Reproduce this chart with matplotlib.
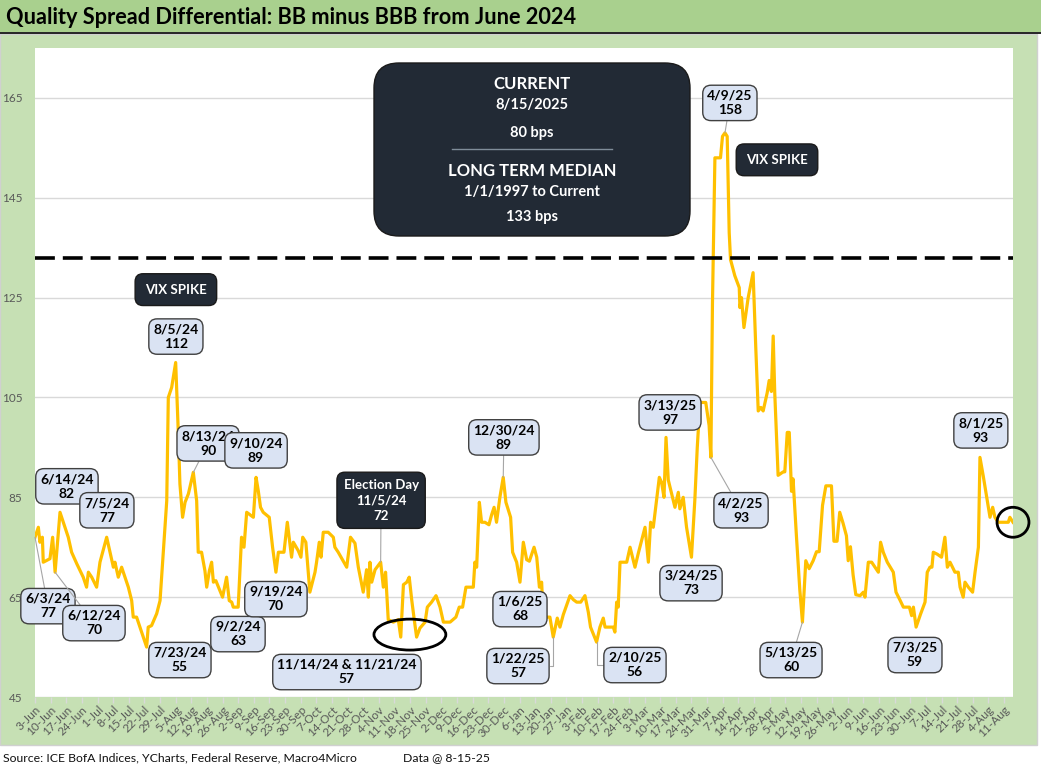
import matplotlib
matplotlib.use('Agg')
import matplotlib.pyplot as plt
import matplotlib.dates as mdates
from matplotlib.patches import Ellipse, FancyBboxPatch, Rectangle
from matplotlib.lines import Line2D
import pandas as pd

plt.rcParams['font.family'] = ['Lato', 'DejaVu Sans']

''' Quality spread differential: BB minus BBB (bps) '''

start = pd.Timestamp('2024-06-03')

obs_day = [
    0, 1.5, 2.2, 3.3, 3.7, 6.7, 7.9, 9, 11.2, 14.9, 16.4, 18.7, 21.6, 23.1, 23.9, 25.4, 27.6, 29.1,
    32.1, 35.1, 35.8, 37.3, 38.8, 41.8, 43.3, 44, 45.5, 50, 50.7, 52.2, 54.5, 56, 57.5, 59, 59.7,
    61.2, 63, 64.2, 64.9, 66.1, 67.2, 68.7, 70.9, 72.4, 73.1, 74.6, 76.1, 76.9, 78.1, 79.1, 79.9,
    81, 82.8, 84, 85.8, 87, 88.1, 88.8, 91, 92.5, 93.6, 94.8, 97.8, 99, 100, 101, 102.2, 104.9,
    106.4, 107.9, 109, 111.5, 113, 114.9, 115.7, 117.9, 119.1, 119.9, 121.3, 123.1, 125.4, 126.1,
    127.3, 128.1, 129.1, 131.3, 133.6, 134.3, 135.8, 139.6, 141.3, 143.3, 144.8, 147, 148.5, 149.3,
    150, 150.8, 152.3, 154.8, 156, 157, 158.2, 160.5, 162.7, 163.8, 165, 166.5, 167.6, 168.7, 169.7,
    170.9, 172.4, 174.7, 175.7, 177.6, 179.6, 181.4, 182.9, 185.9, 188.5, 190, 191.5, 193, 196.3,
    197, 197.8, 199, 200, 201.5, 203.3, 204.5, 205.6, 206.7, 208.2, 209.7, 210.9, 213, 213.9, 215.7,
    217.2, 218.7, 220.2, 221.4, 223.5, 224.7, 225.9, 226.9, 227.6, 229.1, 230.6, 232.1, 233.9, 235.1,
    236.6, 239.6, 241.1, 242.6, 244.4, 246.3, 247.8, 248.8, 251.5, 253, 254.5, 255.3, 257.8, 259,
    259.7, 260.5, 261.2, 262, 265, 266.5, 268.7, 270.2, 273.2, 274.7, 275.7, 276.9, 279.6, 280.6,
    281.7, 282.6, 283.6, 286.6, 288.1, 288.8, 290.3, 291.8, 294, 295.5, 296.6, 297.8, 300.4, 301.9,
    302.7, 303.4, 304.5, 307, 307.9, 309, 310, 310.9, 311.5, 313.4, 315.4, 315.7, 316.4, 317.5,
    319.4, 321.6, 322.8, 323.9, 325.1, 326.1, 327.9, 328.8, 329.8, 330.6, 331.3, 332.8, 335.1, 335.8,
    336.9, 337.8, 338.8, 339.5, 341, 342.5, 343.7, 345.2, 346.7, 348.5, 350, 351.2, 352.7, 354.2,
    356.7, 357.8, 359.2, 360.4, 361.9, 363.4, 364.2, 365.2, 366.4, 367.6, 369.5, 371, 371.7, 373.2,
    374.7, 376.2, 377.7, 378.7, 379.9, 381.7, 384.4, 385.6, 387.4, 388.9, 391.6, 392.6, 393.4, 394.6,
    396.6, 398.6, 399.6, 400.8, 401.7, 402.3, 404.1, 406, 407.5, 408.6, 409.8, 412, 413.5, 414.3,
    415.7, 416.5, 418, 419.9, 421, 422.5, 423.2, 424.7, 426.2, 427.7, 428.9, 429.9, 431.4, 433.7,
    435.9, 436.6, 438,
]

spread_bps = [
    77, 79, 76, 77, 72, 72.7, 77, 70, 82, 77, 74, 71.7, 69, 67, 70, 69, 67, 72,
    77, 71, 72, 69, 71, 67, 64.3, 61, 61, 55, 59, 59.3, 61.7, 64.3, 74.3, 84.3, 105,
    107, 112, 97.7, 87.7, 81, 84, 85.7, 90, 84.3, 74, 74, 70.3, 67, 70.3, 72, 68,
    68.3, 66.3, 65, 69, 64.3, 64, 63, 63, 77, 75, 82, 81, 89, 86.3, 83, 82, 81,
    75, 70, 74, 74, 80, 73, 76, 74.3, 73, 77, 76, 66, 70, 72,
    76, 73, 78, 78, 77, 75, 74, 71, 77, 75.8, 71, 66, 70.5, 65,
    72, 68, 70.5, 72, 67, 70, 60.5, 60, 60.5, 57, 67.5, 68, 69, 64.5, 61,
    57, 58.8, 60, 63, 64, 65.3, 63, 60, 60, 61, 63, 63, 67, 67,
    72, 71, 84, 80, 80, 79.5, 81.5, 83, 80, 85, 89, 84, 81, 74, 72,
    68, 76, 72.5, 72.2, 75, 73, 67, 68, 61, 61, 61, 57, 60.8, 59,
    61.5, 65.3, 64.5, 64, 64, 65.3, 62, 59, 56, 59, 60.8, 59, 59, 59,
    58, 64, 63, 72, 72, 75, 71, 73.8, 79, 72, 80, 79, 89, 88,
    85, 97, 88.5, 83, 86, 82.7, 85, 79, 73, 84.4, 95, 104, 104, 99.4,
    93, 123.7, 153, 153, 157.3, 158, 157.3, 138, 132.6, 129.4, 127, 123, 125, 119,
    125, 130, 115, 102.3, 103, 102.3, 105.9, 108.4, 106.2, 117.3, 105.9, 89.4, 90.1, 90.1,
    98, 98, 86.2, 88.7, 77.3, 66.6, 60, 72.3, 70.7, 72.3, 74.1, 74.1, 83.4, 87.3,
    87.3, 76.2, 76.2, 82, 79.8, 77.3, 72.3, 75.1, 69.4, 65.5, 65.3, 66, 65, 72,
    72, 71, 70, 76, 74, 72, 70, 66, 64.4, 63, 63, 61.3, 63, 59,
    61.6, 64, 70, 71, 71, 74, 73.6, 73, 77, 71, 72, 70, 70, 67,
    65, 68, 67, 66, 70, 75, 93, 89.2, 85.1, 81, 83, 81, 80, 80,
    80, 81, 80,
]

median_bps = 133      # long term median 1/1/1997 to current
current_bps = 80

# callouts: text, point (day, bps), box centre (day, bps), leader style
callouts = [
    ('6/14/24\n82', 11.2, 82, 14.3, 87.2, None),
    ('7/5/24\n77', 32.1, 77, 32.2, 82.4, None),
    ('6/3/24\n77', 0, 77, 5.8, 63.2, 'line'),
    ('6/12/24\n70', 9, 70, 26.4, 59.8, 'line'),
    ('7/23/24\n55', 50, 55, 64.9, 52.4, None),
    ('8/5/24\n112', 63, 112, 63.1, 117.2, None),
    ('8/13/24\n90', 70.9, 90, 77.5, 95.8, 'line'),
    ('9/10/24\n89', 99, 89, 99.0, 94.4, None),
    ('9/2/24\n63', 91, 63, 90.9, 57.6, None),
    ('9/19/24\n70', 107.9, 70, 107.9, 64.6, None),
    ('11/14/24 & 11/21/24\n57', None, None, 139.7, 50.0, None),
    ('12/30/24\n89', 209.7, 89, 210.0, 97.0, 'line'),
    ('1/6/25\n68', 217.2, 68, 217.2, 62.6, None),
    ('1/22/25\n57', 232.1, 57, 216.3, 51.2, 'elbow'),
    ('2/10/25\n56', 251.5, 56, 268.7, 51.4, 'elbow'),
    ('3/13/25\n97', 282.6, 97, 284.4, 102.0, None),
    ('3/24/25\n73', 294, 73, 293.8, 67.8, None),
    ('4/9/25\n158', 309, 158, 311.2, 164.0, 'line'),
    ('4/2/25\n93', 302.7, 93, 316.2, 82.4, 'line'),
    ('5/13/25\n60', 343.7, 60, 338.6, 52.4, 'line'),
    ('7/3/25\n59', 394.6, 59, 394.1, 53.4, None),
    ('8/1/25\n93', 423.2, 93, 423.6, 98.4, None),
]

W, H = 1041, 774


def dn(day):
    return mdates.date2num(start + pd.Timedelta(days=day))


def fx(px):
    return px / W


def fy(py):
    return 1 - py / H


fig = plt.figure(figsize=(W / 100, H / 100), dpi=100)
fig.patch.set_facecolor('white')

# title band and chart frame
fig.add_artist(Rectangle((0, fy(32)), 1, 32 / H, transform=fig.transFigure,
                         fc='#A9D08E', ec='none', zorder=0))
fig.add_artist(Line2D([0, 1], [fy(32.5), fy(32.5)], transform=fig.transFigure, color='black', lw=1.2))
fig.add_artist(Rectangle((0, fy(745)), fx(1037), (745 - 34) / H, transform=fig.transFigure,
                         fc='#C6E0B4', ec='#D0D0D0', lw=1, zorder=0))
fig.text(fx(6), fy(17), 'Quality Spread Differential: BB minus BBB from June 2024',
         fontsize=15.7, fontweight='bold', va='center', ha='left')
fig.text(fx(3), fy(758), 'Source: ICE BofA Indices, YCharts, Federal Reserve, Macro4Micro',
         fontsize=8.8, va='center', ha='left', color='#111111')
fig.text(fx(403), fy(758), 'Data @ 8-15-25', fontsize=8.8, va='center', ha='left', color='#111111')

ax = fig.add_axes([fx(35), fy(697), fx(1013) - fx(35), (697 - 48) / H])
ax.set_facecolor('white')

dates = [start + pd.Timedelta(days=d) for d in obs_day]
ax.plot(dates, spread_bps, color='#FFC000', lw=2.3, solid_joinstyle='round', zorder=3)
ax.axhline(median_bps, color='black', lw=2.6, dashes=(5.5, 2.2), zorder=4)

ax.set_xlim(dn(0), dn(438))
ax.set_ylim(45, 175)
ax.set_yticks(range(45, 166, 20))
ax.grid(axis='y', color='#D9D9D9', lw=1)
ax.set_axisbelow(True)
for s in ax.spines.values():
    s.set_visible(False)

ax.xaxis.set_major_locator(mdates.WeekdayLocator(byweekday=mdates.MO))
ax.xaxis.set_major_formatter(plt.FuncFormatter(
    lambda v, pos: f"{mdates.num2date(v).day}-{mdates.num2date(v):%b}"))
ax.tick_params(axis='x', colors='#D9D9D9', length=4, width=1, labelcolor='#595959',
               labelsize=8.5, pad=1)
ax.tick_params(axis='y', length=0, labelcolor='#595959', labelsize=8.5, pad=9)
for lab in ax.get_xticklabels():
    lab.set_rotation(45)
    lab.set_ha('right')
    lab.set_va('top')
    lab.set_rotation_mode('anchor')

blue_box = dict(boxstyle='round,pad=0.32,rounding_size=0.6', fc='#DAE3F3', ec='#404040', lw=1)
for text, pd_, pv, bd, bv, style in callouts:
    if style is None:
        ax.text(dn(bd), bv, text, ha='center', va='center', fontsize=10, fontweight='bold',
                linespacing=1.25, bbox=blue_box, zorder=6)
        continue
    if style == 'elbow':
        cs = 'angle,angleA=0,angleB=90,rad=0'
    else:
        cs = 'arc3'
    ax.annotate(text, xy=(dn(pd_), pv), xytext=(dn(bd), bv), ha='center', va='center',
                fontsize=10, fontweight='bold', linespacing=1.25, bbox=blue_box, zorder=6,
                arrowprops=dict(arrowstyle='-', color='#A6A6A6', lw=0.8, shrinkA=0, shrinkB=0,
                                connectionstyle=cs))

dark_box = dict(boxstyle='round,pad=0.75,rounding_size=0.6', fc='#222A35', ec='#1A1A1A', lw=1)
ax.text(dn(63.1), 126.6, 'VIX SPIKE', ha='center', va='center', color='white', fontsize=9.5,
        fontweight='bold', bbox=dark_box, zorder=6)
ax.text(dn(332.3), 152.6, 'VIX SPIKE', ha='center', va='center', color='white', fontsize=9.5,
        fontweight='bold', bbox=dark_box, zorder=6)
elec_box = dict(boxstyle='round,pad=0.5,rounding_size=0.6', fc='#222A35', ec='#1A1A1A', lw=1)
ax.annotate('Election Day\n11/5/24\n72', xy=(dn(154.8), 72), xytext=(dn(155), 84.4),
            ha='center', va='center', color='white', fontsize=9.5, fontweight='bold',
            linespacing=1.35, bbox=elec_box, zorder=6,
            arrowprops=dict(arrowstyle='-', color='#A6A6A6', lw=0.8, shrinkA=0, shrinkB=0))

# ellipse round the November lows and circle round the current reading
ax.add_patch(Ellipse((dn(167.9), 57.5), 32.2, 6.2, fill=False, ec='black', lw=2, zorder=5))
ax.add_patch(Ellipse((dn(438), current_bps), 14.3, 6.0, fill=False, ec='black', lw=2,
                     zorder=5, clip_on=False))

# summary box
fig.add_artist(FancyBboxPatch((3.74, (H - 236) / 100), 3.16, 1.73,
                              boxstyle='round,pad=0,rounding_size=0.25',
                              transform=fig.dpi_scale_trans, fc='#222A35', ec='#1A1A1A',
                              lw=1, zorder=5))
summary = [
    ('CURRENT', 84, 12), ('8/15/2025', 105, 10.5), (f'{current_bps} bps', 133, 10.5),
    ('LONG TERM MEDIAN', 171, 12), ('1/1/1997 to Current', 192, 10.5), (f'{median_bps} bps', 217, 10.5),
]
for txt, py, fs in summary:
    fig.text(fx(532), fy(py), txt, ha='center', va='center', color='white', fontsize=fs,
             fontweight='bold', zorder=6)
fig.add_artist(Line2D([fx(452), fx(612)], [fy(149), fy(149)], transform=fig.transFigure,
                      color='#7F8C99', lw=1, zorder=6))

fig.savefig('out.png', dpi=100)
